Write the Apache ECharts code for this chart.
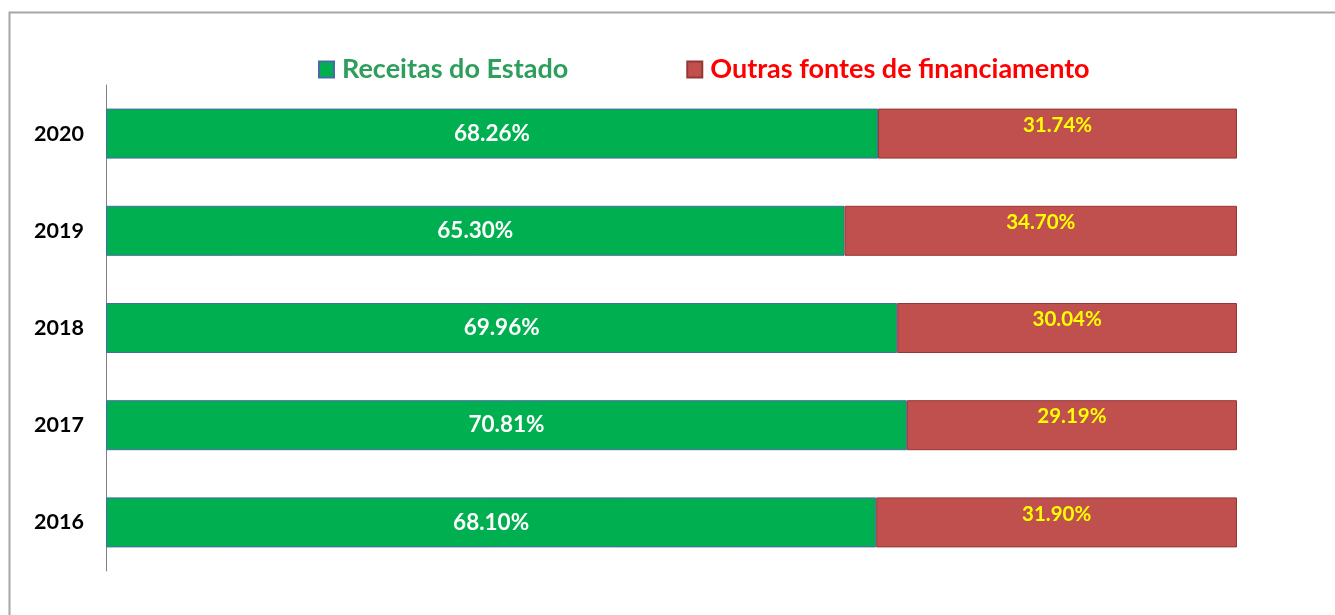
<!DOCTYPE html>
<html>
<head>
<meta charset="utf-8">
<script src="https://cdn.jsdelivr.net/npm/echarts@6/dist/echarts.min.js"></script>
<style>
html, body { margin: 0; padding: 0; background: #fff; }
#chart { width: 1335px; height: 615px; }
</style>
</head>
<body>
<div id="chart"></div>
<script>
var anos = ['2016', '2017', '2018', '2019', '2020'];
var receitas = [68.10, 70.81, 69.96, 65.30, 68.26];
var outras = [31.90, 29.19, 30.04, 34.70, 31.74];
var nomes = ['Receitas do Estado', 'Outras fontes de financiamento'];

var fonte = 'Lato, "Open Sans", sans-serif';
var chart = echarts.init(document.getElementById('chart'));
var option = {
    backgroundColor: '#fff',
    animation: false,
    graphic: [{
        type: 'rect',
        shape: { x: 9.5, y: 12.5, width: 1400, height: 700 },
        style: { fill: 'none', stroke: '#a6a6a6', lineWidth: 2 },
        silent: true
    }],
    legend: {
        left: 313,
        top: 51,
        icon: 'rect',
        itemWidth: 15,
        itemHeight: 16,
        itemGap: 118,
        data: [
            { name: nomes[0], textStyle: { color: '#2e9e5c' } },
            { name: nomes[1], textStyle: { color: '#ff0000' } }
        ],
        textStyle: { fontFamily: fonte, fontWeight: 'bold', fontSize: 27, padding: [0, 0, 0, 3] }
    },
    grid: { left: 106, top: 85, width: 1131, height: 486 },
    xAxis: {
        type: 'value',
        min: 0,
        max: 100,
        show: false
    },
    yAxis: {
        type: 'category',
        data: anos,
        axisLine: { lineStyle: { color: '#808080', width: 1 } },
        axisTick: { show: false },
        axisLabel: { color: '#000', fontFamily: fonte, fontWeight: 'bold', fontSize: 21.5, margin: 22 }
    },
    series: [
        {
            name: nomes[0],
            type: 'bar',
            stack: 'total',
            barWidth: 50,
            data: receitas,
            itemStyle: { color: '#00b050', borderColor: '#4a6aa5', borderWidth: 1 },
            label: {
                show: true,
                position: 'inside',
                color: '#fff',
                fontFamily: fonte,
                fontWeight: 'bold',
                fontSize: 22.5,
                formatter: function (p) { return p.value.toFixed(2) + '%'; }
            }
        },
        {
            name: nomes[1],
            type: 'bar',
            stack: 'total',
            barWidth: 50,
            data: outras,
            itemStyle: { color: '#c0504d', borderColor: '#943634', borderWidth: 1 },
            label: {
                show: true,
                position: 'insideTop',
                distance: 6,
                color: '#ffff00',
                fontFamily: fonte,
                fontWeight: 'bold',
                fontSize: 20.5,
                formatter: function (p) { return p.value.toFixed(2) + '%'; }
            }
        }
    ]
};
chart.setOption(option);
</script>
</body>
</html>
